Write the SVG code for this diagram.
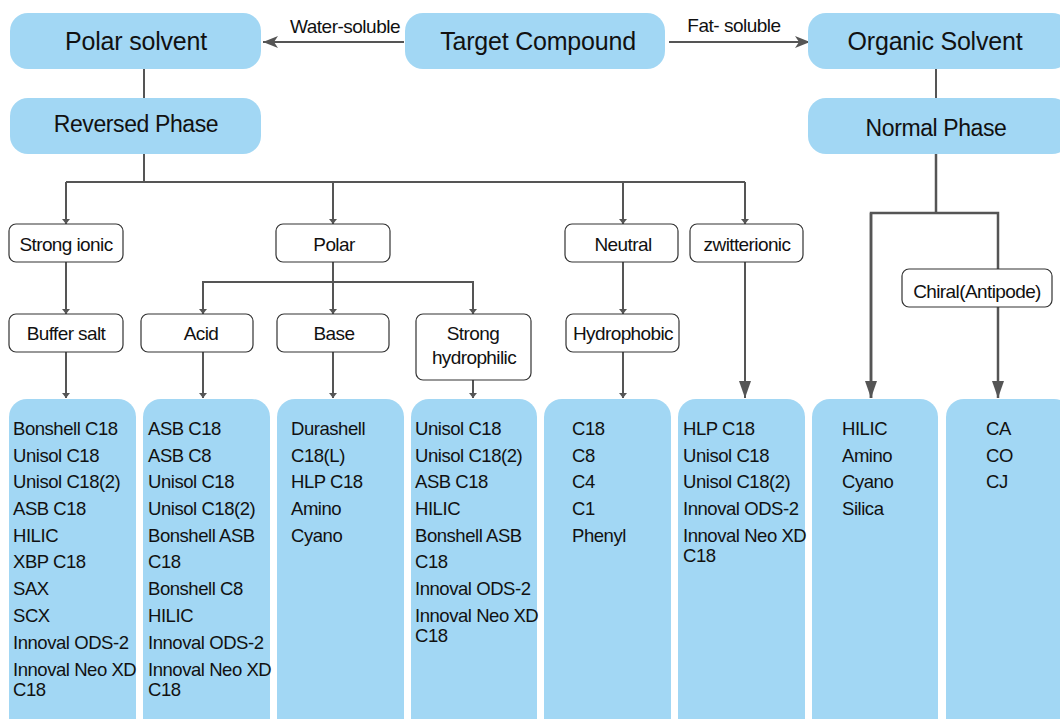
<svg xmlns="http://www.w3.org/2000/svg" width="1060" height="719" viewBox="0 0 1060 719">
<style>
.blue{fill:#a2d7f4;}
.wb{fill:#fff;stroke:#333;stroke-width:1.2;}
text{font-family:"Liberation Sans",Arial,sans-serif;fill:#111;}
.big{font-size:25px;text-anchor:middle;letter-spacing:-0.2px;}
.mid{font-size:23px;text-anchor:middle;letter-spacing:-0.4px;}
.lbl{font-size:19px;text-anchor:middle;letter-spacing:-0.6px;}
.edge{font-size:19px;text-anchor:middle;letter-spacing:-0.5px;}
.item{font-size:18.5px;letter-spacing:-0.45px;}
.ln{fill:none;stroke:#555;stroke-width:2;}
.lnb{fill:none;stroke:#555;stroke-width:2.5;}
</style>
<defs>
<marker id="sm" markerWidth="5" markerHeight="8" refX="5" refY="4" orient="auto" markerUnits="userSpaceOnUse"><path d="M0,0 L5,4 L0,8 z" fill="#555"/></marker>
<marker id="bg" markerWidth="17" markerHeight="12" refX="17" refY="6" orient="auto" markerUnits="userSpaceOnUse"><path d="M0,0 L17,6 L0,12 z" fill="#555"/></marker>
<marker id="hz" markerWidth="15" markerHeight="12" refX="15" refY="6" orient="auto" markerUnits="userSpaceOnUse"><path d="M0,0 L15,6 L0,12 L4,6 z" fill="#555"/></marker>
</defs>

<g id="connectors">
<line class="ln" x1="404" y1="42" x2="263" y2="42" marker-end="url(#hz)"/>
<text class="edge" x="345" y="33">Water-soluble</text>
<line class="ln" x1="669" y1="42" x2="810" y2="42" marker-end="url(#hz)"/>
<text class="edge" x="734" y="32">Fat- soluble</text>
<line class="ln" x1="144" y1="69" x2="144" y2="98"/>
<line class="ln" x1="936" y1="69" x2="936" y2="98"/>
<line class="ln" x1="144" y1="154" x2="144" y2="182"/>
<polyline class="ln" points="66,182 745,182"/>
<line class="ln" x1="66" y1="182" x2="66" y2="224" marker-end="url(#sm)"/>
<line class="ln" x1="333" y1="182" x2="333" y2="224" marker-end="url(#sm)"/>
<line class="ln" x1="623" y1="182" x2="623" y2="224" marker-end="url(#sm)"/>
<line class="ln" x1="745" y1="182" x2="745" y2="224" marker-end="url(#sm)"/>
<line class="ln" x1="66" y1="262" x2="66" y2="314" marker-end="url(#sm)"/>
<line class="ln" x1="333" y1="262" x2="333" y2="282"/>
<polyline class="ln" points="203,314 203,282 473,282 473,314" marker-end="url(#sm)"/>
<line class="ln" x1="203" y1="282" x2="203" y2="314" marker-end="url(#sm)"/>
<line class="ln" x1="333" y1="282" x2="333" y2="314" marker-end="url(#sm)"/>
<line class="ln" x1="623" y1="262" x2="623" y2="314" marker-end="url(#sm)"/>
<line class="ln" x1="66" y1="352" x2="66" y2="398" marker-end="url(#sm)"/>
<line class="ln" x1="203" y1="352" x2="203" y2="398" marker-end="url(#sm)"/>
<line class="ln" x1="333" y1="352" x2="333" y2="398" marker-end="url(#sm)"/>
<line class="ln" x1="473" y1="380" x2="473" y2="398" marker-end="url(#sm)"/>
<line class="ln" x1="623" y1="352" x2="623" y2="398" marker-end="url(#sm)"/>
<line class="ln" x1="745" y1="262" x2="745" y2="398" marker-end="url(#bg)"/>
<line class="lnb" x1="936" y1="154" x2="936" y2="213"/>
<polyline class="lnb" points="871,398 871,213 998,213 998,269"/>
<line class="lnb" x1="871" y1="213" x2="871" y2="398" marker-end="url(#bg)"/>
<line class="lnb" x1="998" y1="307" x2="998" y2="398" marker-end="url(#bg)"/>
</g>

<g id="polar-solvent"><rect class="blue" x="10" y="13" width="251" height="56" rx="18"/><text class="big" x="136" y="50">Polar solvent</text></g>
<g id="target-compound"><rect class="blue" x="405" y="13" width="260" height="56" rx="18"/><text class="big" x="538" y="50">Target Compound</text></g>
<g id="organic-solvent"><rect class="blue" x="808" y="13" width="262" height="56" rx="18"/><text class="big" x="935" y="50">Organic Solvent</text></g>
<g id="reversed-phase"><rect class="blue" x="10" y="98" width="251" height="56" rx="18"/><text class="mid" x="136" y="132">Reversed Phase</text></g>
<g id="normal-phase"><rect class="blue" x="808" y="98" width="262" height="56" rx="18"/><text class="mid" x="936" y="136">Normal Phase</text></g>

<g id="strong-ionic"><rect class="wb" x="9" y="224" width="114" height="38" rx="7"/><text class="lbl" x="66" y="251">Strong ionic</text></g>
<g id="polar"><rect class="wb" x="276" y="224" width="114" height="38" rx="7"/><text class="lbl" x="334" y="251">Polar</text></g>
<g id="neutral"><rect class="wb" x="565" y="224" width="113" height="38" rx="7"/><text class="lbl" x="623" y="251">Neutral</text></g>
<g id="zwitterionic"><rect class="wb" x="690" y="224" width="113" height="38" rx="7"/><text class="lbl" x="747" y="251">zwitterionic</text></g>
<g id="buffer-salt"><rect class="wb" x="9" y="314" width="114" height="38" rx="7"/><text class="lbl" x="66" y="340">Buffer salt</text></g>
<g id="acid"><rect class="wb" x="141" y="314" width="112" height="38" rx="7"/><text class="lbl" x="201" y="340">Acid</text></g>
<g id="base"><rect class="wb" x="277" y="314" width="112" height="38" rx="7"/><text class="lbl" x="334" y="340">Base</text></g>
<g id="strong-hydrophilic"><rect class="wb" x="416" y="314" width="115" height="66" rx="7"/><text class="lbl" x="473" y="340">Strong</text><text class="lbl" x="474" y="364">hydrophilic</text></g>
<g id="hydrophobic"><rect class="wb" x="566" y="314" width="113" height="38" rx="7"/><text class="lbl" x="623" y="340">Hydrophobic</text></g>
<g id="chiral"><rect class="wb" x="902" y="269" width="150" height="38" rx="7"/><text class="lbl" x="977" y="298">Chiral(Antipode)</text></g>

<g id="col-buffer"><rect class="blue" x="9" y="399" width="127" height="345" rx="18"/>
<text class="item" x="13" y="435">Bonshell C18</text><text class="item" x="13" y="462">Unisol C18</text><text class="item" x="13" y="488">Unisol C18(2)</text><text class="item" x="13" y="515">ASB C18</text><text class="item" x="13" y="542">HILIC</text><text class="item" x="13" y="568">XBP C18</text><text class="item" x="13" y="595">SAX</text><text class="item" x="13" y="622">SCX</text><text class="item" x="13" y="649">Innoval ODS-2</text><text class="item" x="13" y="676">Innoval Neo XD</text><text class="item" x="13" y="696">C18</text></g>
<g id="col-acid"><rect class="blue" x="143" y="399" width="127" height="345" rx="18"/>
<text class="item" x="148" y="435">ASB C18</text><text class="item" x="148" y="462">ASB C8</text><text class="item" x="148" y="488">Unisol C18</text><text class="item" x="148" y="515">Unisol C18(2)</text><text class="item" x="148" y="542">Bonshell ASB</text><text class="item" x="148" y="568">C18</text><text class="item" x="148" y="595">Bonshell C8</text><text class="item" x="148" y="622">HILIC</text><text class="item" x="148" y="649">Innoval ODS-2</text><text class="item" x="148" y="676">Innoval Neo XD</text><text class="item" x="148" y="696">C18</text></g>
<g id="col-base"><rect class="blue" x="277" y="399" width="127" height="345" rx="18"/>
<text class="item" x="291" y="435">Durashell</text><text class="item" x="291" y="462">C18(L)</text><text class="item" x="291" y="488">HLP C18</text><text class="item" x="291" y="515">Amino</text><text class="item" x="291" y="542">Cyano</text></g>
<g id="col-hydrophilic"><rect class="blue" x="411" y="399" width="126" height="345" rx="18"/>
<text class="item" x="415" y="435">Unisol C18</text><text class="item" x="415" y="462">Unisol C18(2)</text><text class="item" x="415" y="488">ASB C18</text><text class="item" x="415" y="515">HILIC</text><text class="item" x="415" y="542">Bonshell ASB</text><text class="item" x="415" y="568">C18</text><text class="item" x="415" y="595">Innoval ODS-2</text><text class="item" x="415" y="622">Innoval Neo XD</text><text class="item" x="415" y="642">C18</text></g>
<g id="col-hydrophobic"><rect class="blue" x="544" y="399" width="127" height="345" rx="18"/>
<text class="item" x="572" y="435">C18</text><text class="item" x="572" y="462">C8</text><text class="item" x="572" y="488">C4</text><text class="item" x="572" y="515">C1</text><text class="item" x="572" y="542">Phenyl</text></g>
<g id="col-zwitterionic"><rect class="blue" x="678" y="399" width="127" height="345" rx="18"/>
<text class="item" x="683" y="435">HLP C18</text><text class="item" x="683" y="462">Unisol C18</text><text class="item" x="683" y="488">Unisol C18(2)</text><text class="item" x="683" y="515">Innoval ODS-2</text><text class="item" x="683" y="542">Innoval Neo XD</text><text class="item" x="683" y="562">C18</text></g>
<g id="col-normal"><rect class="blue" x="812" y="399" width="126" height="345" rx="18"/>
<text class="item" x="842" y="435">HILIC</text><text class="item" x="842" y="462">Amino</text><text class="item" x="842" y="488">Cyano</text><text class="item" x="842" y="515">Silica</text></g>
<g id="col-chiral"><rect class="blue" x="946" y="399" width="126" height="345" rx="18"/>
<text class="item" x="986" y="435">CA</text><text class="item" x="986" y="462">CO</text><text class="item" x="986" y="488">CJ</text></g>
</svg>
